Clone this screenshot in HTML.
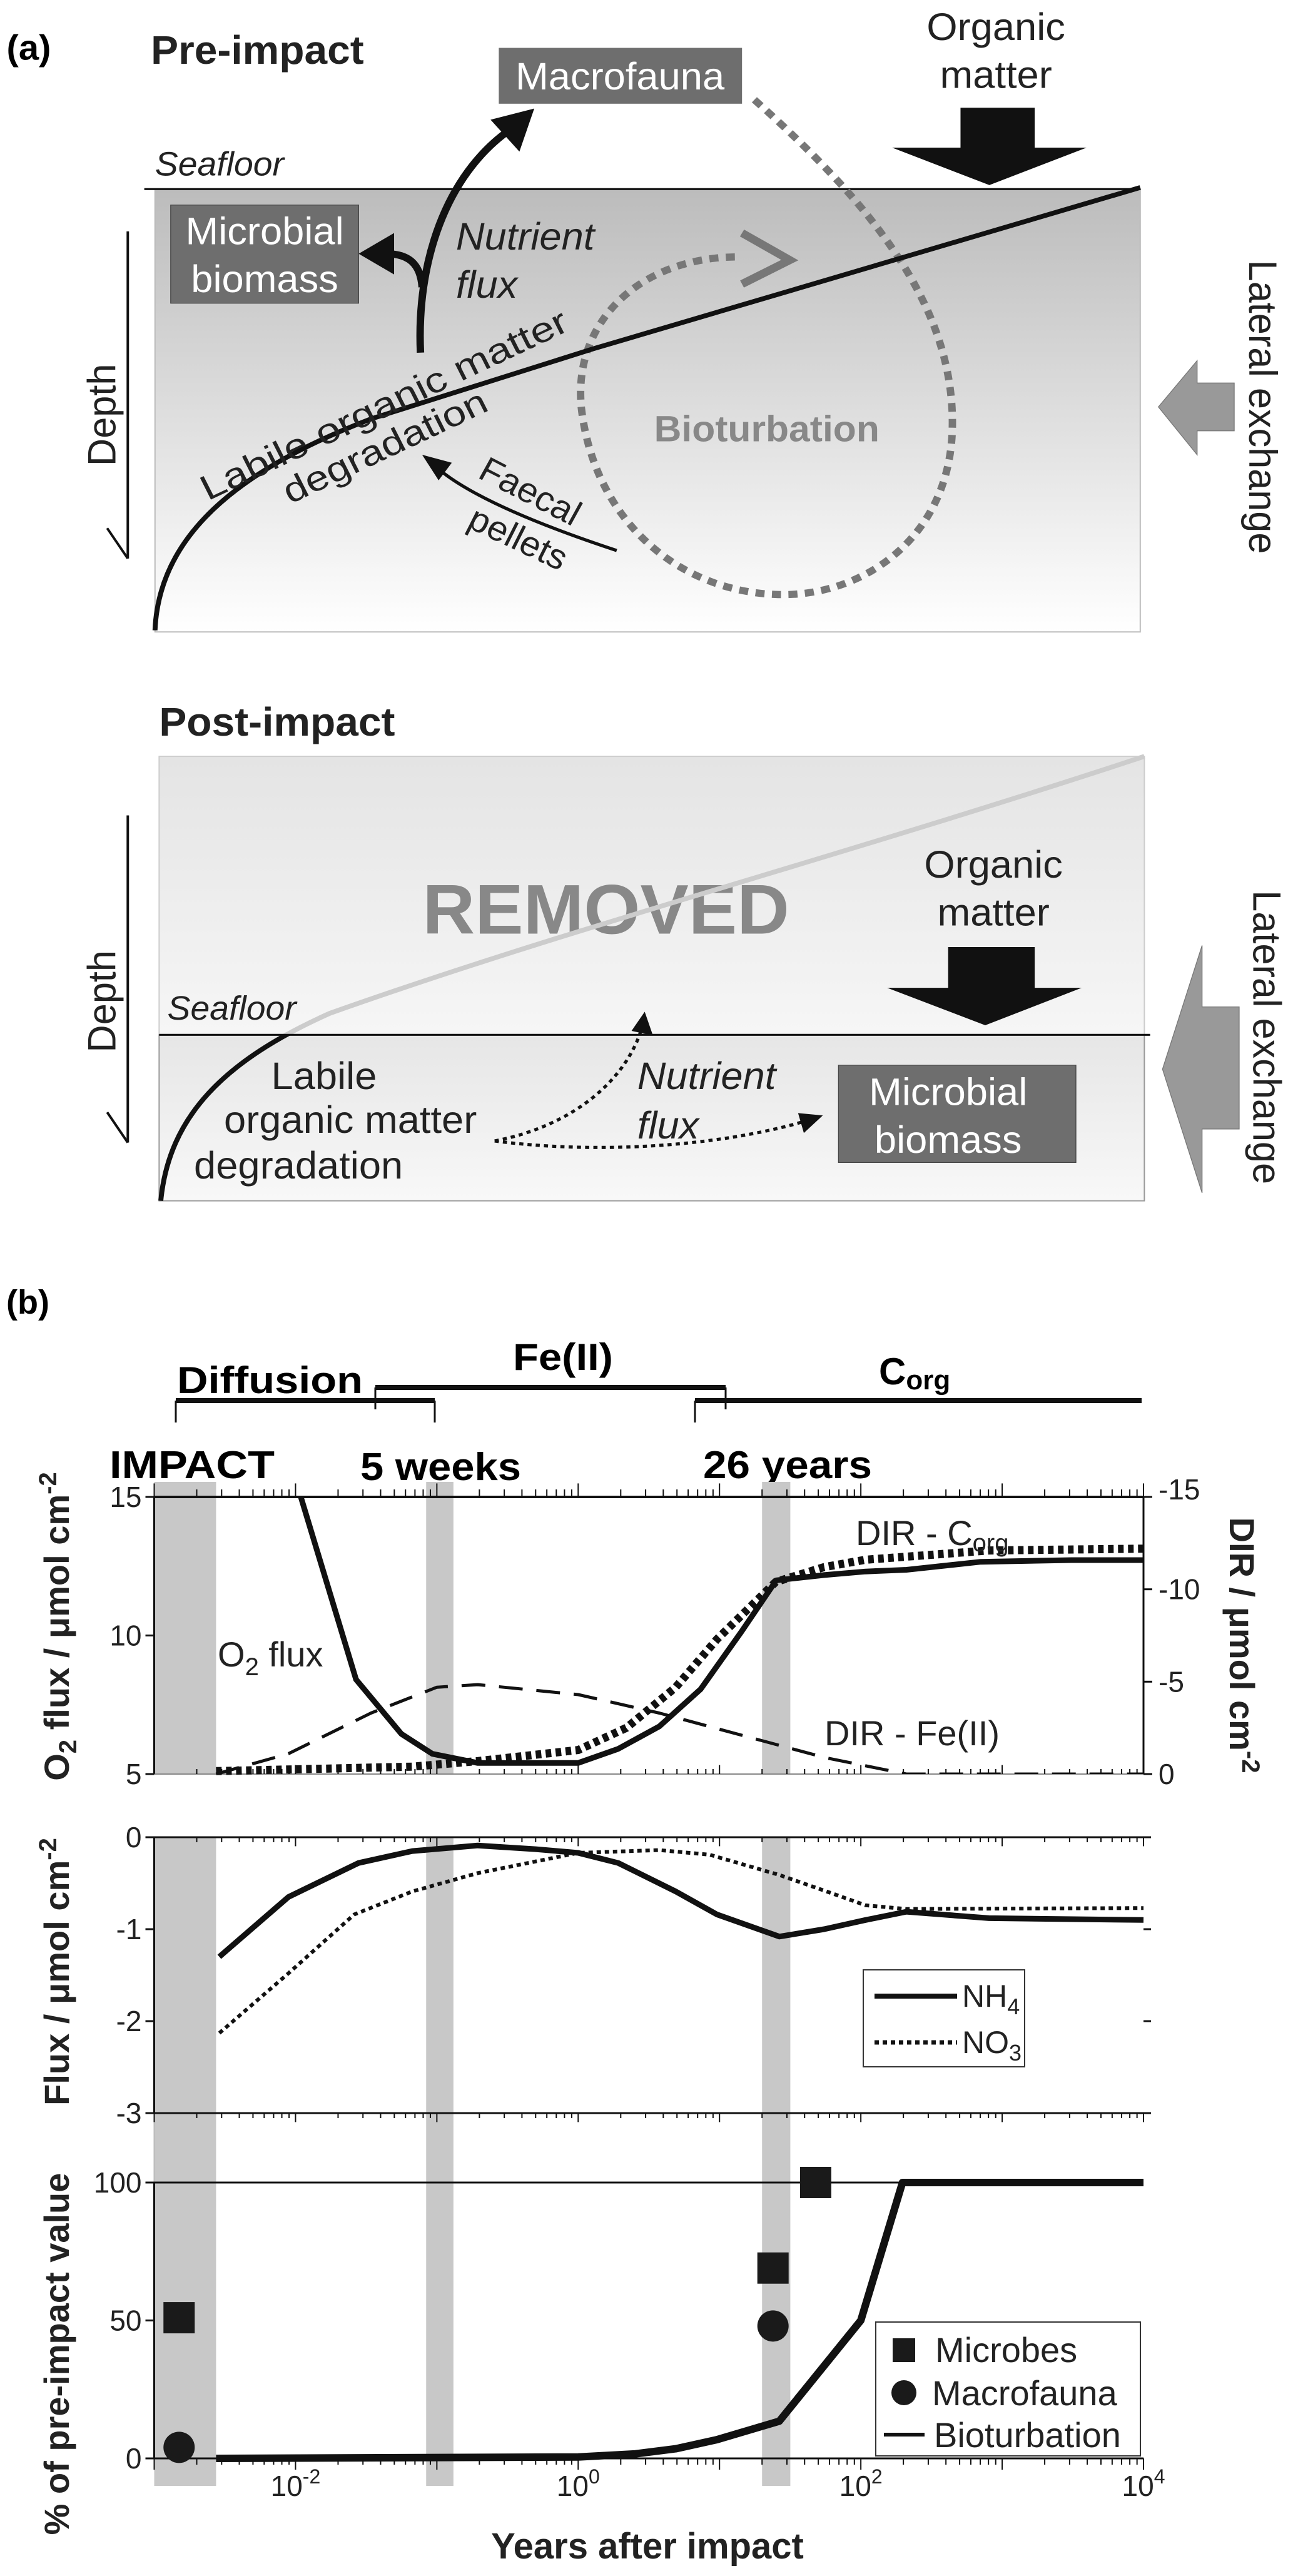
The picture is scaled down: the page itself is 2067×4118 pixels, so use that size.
<!DOCTYPE html>
<html><head><meta charset="utf-8"><style>
html,body{margin:0;padding:0;background:#fff}
svg{display:block}
text{font-family:"Liberation Sans",sans-serif}
.n{font-family:"Liberation Sans Narrow","Liberation Sans",sans-serif}
</style></head><body>
<svg id="fig" width="2067" height="4118" viewBox="0 0 2067 4118" xmlns="http://www.w3.org/2000/svg">
<defs>
<linearGradient id="gPre" x1="0" y1="0" x2="0" y2="1"><stop offset="0" stop-color="#bcbcbc"/><stop offset="1" stop-color="#ffffff"/></linearGradient>
<linearGradient id="gPost" x1="0" y1="0" x2="0" y2="1"><stop offset="0" stop-color="#e4e4e4"/><stop offset="1" stop-color="#f6f6f6"/></linearGradient>
<linearGradient id="gPost2" x1="0" y1="0" x2="0" y2="1"><stop offset="0" stop-color="#e6e6e6"/><stop offset="1" stop-color="#f8f8f8"/></linearGradient>
<clipPath id="below"><rect x="150" y="1297" width="1300" height="220"/></clipPath>
</defs>

<g transform="scale(1.318,1.2755)">
<text x="8" y="75" font-size="44" font-weight="bold">(a)</text>
<text x="183" y="80" font-size="50" font-weight="bold" fill="#222">Pre-impact</text>
<rect x="188" y="237" width="1195" height="555" fill="url(#gPre)" stroke="#bbb" stroke-width="1.5"/>
<line x1="175" y1="237" x2="1383" y2="237" stroke="#111" stroke-width="2.5"/>
<text x="188" y="220" font-size="42" font-style="italic" fill="#222">Seafloor</text>
<path d="M915,125 C1050,250 1160,380 1155,540 C1150,680 1040,750 940,745 C820,740 720,650 705,510 C695,400 780,320 900,322" fill="none" stroke="#777" stroke-width="9" stroke-dasharray="11,9"/>
<polyline points="900,292 958,326 900,356" fill="none" stroke="#777" stroke-width="10"/>
<text x="930" y="553" font-size="46" font-weight="bold" fill="#888" text-anchor="middle">Bioturbation</text>
<path d="M188,790 C192,690 260,600 450,525 L720,437 L1383,235" fill="none" stroke="#111" stroke-width="6"/>
<rect x="605" y="60" width="295" height="70" fill="#6e6e6e"/>
<text x="752" y="112" font-size="48" fill="#fff" text-anchor="middle">Macrofauna</text>
<text x="1208" y="50" font-size="48" text-anchor="middle" fill="#222">Organic</text>
<text x="1208" y="110" font-size="48" text-anchor="middle" fill="#222">matter</text>
<polygon points="1165,135 1255,135 1255,185 1318,185 1200,232 1082,185 1165,185" fill="#111"/>
<rect x="207" y="257" width="228" height="123" fill="#6e6e6e" stroke="#444" stroke-width="1"/>
<text x="321" y="306" font-size="48" fill="#fff" text-anchor="middle">Microbial</text>
<text x="321" y="366" font-size="48" fill="#fff" text-anchor="middle">biomass</text>
<path d="M510,442 C505,330 540,220 618,163" fill="none" stroke="#111" stroke-width="9"/>
<polygon points="648,136 630,190 595,150" fill="#111"/>
<path d="M512,360 C510,330 495,318 468,318" fill="none" stroke="#111" stroke-width="9"/>
<polygon points="435,318 478,292 478,344" fill="#111"/>
<text x="553" y="313" font-size="48" font-style="italic" fill="#222">Nutrient</text>
<text x="553" y="373" font-size="48" font-style="italic" fill="#222">flux</text>
<text transform="translate(252,628) rotate(-26)" font-size="44" fill="#222" textLength="490" lengthAdjust="spacingAndGlyphs">Labile organic matter</text>
<text transform="translate(352,632) rotate(-26)" font-size="44" fill="#222" textLength="270" lengthAdjust="spacingAndGlyphs">degradation</text>
<path d="M748,690 C660,660 575,625 532,588" fill="none" stroke="#111" stroke-width="4"/>
<polygon points="512,570 548,580 532,602" fill="#111"/>
<text transform="translate(578,598) rotate(28)" font-size="44" fill="#222">Faecal</text>
<text transform="translate(565,660) rotate(26)" font-size="44" fill="#222">pellets</text>
<line x1="155" y1="290" x2="155" y2="700" stroke="#111" stroke-width="3"/>
<line x1="130" y1="662" x2="155" y2="700" stroke="#111" stroke-width="3"/>
<text transform="translate(140,520) rotate(-90)" font-size="48" text-anchor="middle" fill="#222">Depth</text>
<polygon points="1405,510 1452,452 1452,480 1497,480 1497,540 1452,540 1452,570" fill="#999" stroke="#777" stroke-width="1"/>
<text transform="translate(1515,510) rotate(90)" font-size="48" text-anchor="middle" fill="#222">Lateral exchange</text>

<text x="193" y="922" font-size="50" font-weight="bold" fill="#222">Post-impact</text>
<rect x="193" y="948" width="1195" height="349" fill="url(#gPost)" stroke="#ccc" stroke-width="1.5"/>
<rect x="193" y="1297" width="1195" height="208" fill="url(#gPost2)" stroke="#999" stroke-width="1.5"/>
<text x="735" y="1170" font-size="88" font-weight="bold" fill="#888" text-anchor="middle">REMOVED</text>
<path d="M195,1505 C205,1400 270,1330 400,1270 C700,1160 1000,1080 1388,948" fill="none" stroke="#ccc" stroke-width="6"/>
<path d="M195,1505 C205,1400 270,1330 400,1270 C700,1160 1000,1080 1388,948" fill="none" stroke="#111" stroke-width="6" clip-path="url(#below)"/>
<line x1="193" y1="1297" x2="1395" y2="1297" stroke="#111" stroke-width="2.5"/>
<text x="203" y="1278" font-size="42" font-style="italic" fill="#222">Seafloor</text>
<text x="1205" y="1100" font-size="48" text-anchor="middle" fill="#222">Organic</text>
<text x="1205" y="1160" font-size="48" text-anchor="middle" fill="#222">matter</text>
<polygon points="1150,1187 1255,1187 1255,1238 1312,1238 1195,1285 1076,1238 1150,1238" fill="#111"/>
<text x="393" y="1365" font-size="48" text-anchor="middle" fill="#222">Labile</text>
<text x="425" y="1420" font-size="48" text-anchor="middle" fill="#222">organic matter</text>
<text x="362" y="1477" font-size="48" text-anchor="middle" fill="#222">degradation</text>
<path d="M600,1430 C700,1410 760,1350 778,1290" fill="none" stroke="#111" stroke-width="4" stroke-dasharray="5,5"/>
<polygon points="782,1268 792,1298 766,1292" fill="#111"/>
<path d="M600,1430 C750,1450 900,1430 980,1404" fill="none" stroke="#111" stroke-width="4" stroke-dasharray="5,5"/>
<polygon points="998,1398 975,1420 968,1395" fill="#111"/>
<text x="773" y="1365" font-size="48" font-style="italic" fill="#222">Nutrient</text>
<text x="773" y="1427" font-size="48" font-style="italic" fill="#222">flux</text>
<rect x="1017" y="1335" width="288" height="122" fill="#6e6e6e" stroke="#444" stroke-width="1"/>
<text x="1150" y="1385" font-size="48" fill="#fff" text-anchor="middle">Microbial</text>
<text x="1150" y="1445" font-size="48" fill="#fff" text-anchor="middle">biomass</text>
<line x1="155" y1="1022" x2="155" y2="1432" stroke="#111" stroke-width="3"/>
<line x1="130" y1="1394" x2="155" y2="1432" stroke="#111" stroke-width="3"/>
<text transform="translate(140,1255) rotate(-90)" font-size="48" text-anchor="middle" fill="#222">Depth</text>
<polygon points="1410,1340 1458,1185 1458,1262 1503,1262 1503,1415 1458,1415 1458,1495" fill="#999" stroke="#777" stroke-width="1"/>
<text transform="translate(1520,1300) rotate(90)" font-size="48" text-anchor="middle" fill="#222">Lateral exchange</text>
</g>

<g>
<text x="10" y="2100" font-size="54" font-weight="bold">(b)</text>
<rect x="600" y="2214" width="560" height="8" fill="#111"/>
<line x1="600" y1="2218" x2="600" y2="2253" stroke="#111" stroke-width="3"/>
<line x1="1160" y1="2218" x2="1160" y2="2253" stroke="#111" stroke-width="3"/>
<rect x="281" y="2235" width="414" height="8" fill="#111"/>
<line x1="281" y1="2239" x2="281" y2="2274" stroke="#111" stroke-width="3"/>
<line x1="695" y1="2239" x2="695" y2="2274" stroke="#111" stroke-width="3"/>
<rect x="1111" y="2235" width="714" height="8" fill="#111"/>
<line x1="1111" y1="2239" x2="1111" y2="2274" stroke="#111" stroke-width="3"/>
<text class="n" x="283" y="2227" font-size="60" font-weight="bold" textLength="297" lengthAdjust="spacingAndGlyphs">Diffusion</text>
<text class="n" x="820" y="2190" font-size="60" font-weight="bold" textLength="160" lengthAdjust="spacingAndGlyphs">Fe(II)</text>
<text class="n" x="1405" y="2213" font-size="60" font-weight="bold">C<tspan font-size="44" dy="8">org</tspan></text>
<text class="n" x="175" y="2363" font-size="62" font-weight="bold" textLength="264" lengthAdjust="spacingAndGlyphs">IMPACT</text>
<text class="n" x="576" y="2366" font-size="62" font-weight="bold" textLength="257" lengthAdjust="spacingAndGlyphs">5 weeks</text>
<text class="n" x="1124" y="2363" font-size="62" font-weight="bold" textLength="270" lengthAdjust="spacingAndGlyphs">26 years</text>
</g>
<g id="charts"></g>

<script>
// ---- data ----
const bandStart = [0.001, 0.084, 20];
const bandEnd = [0.00274, 0.131, 31.7];
const o2Years = [0.0109,0.0268,0.0561,0.093,0.195,1.0,1.92,3.75,7.35,14.4,25.2,55,108,210,705,3090,10000];
const o2Flux = [15,8.41,6.45,5.73,5.40,5.40,5.91,6.72,8.06,10.16,11.99,12.18,12.31,12.37,12.66,12.72,12.72];
const dirCorgYears = [0.00274,0.067,0.195,1,2.19,4.9,9.6,25,55,108,807,10000];
const dirCorg = [-0.16,-0.4,-0.7,-1.3,-2.5,-4.7,-7.3,-10.4,-11.2,-11.6,-12.1,-12.2];
const dirFeYears = [0.00274,0.0089,0.0342,0.1,0.195,1,3.75,14.4,55,210,10000];
const dirFe = [0,-1.1,-3.3,-4.7,-4.84,-4.3,-3.3,-2.1,-0.9,0,0];
const nh4Years = [0.00289,0.0089,0.0279,0.067,0.195,0.5,1,1.92,4.9,9.6,26.5,55,108,210,807,10000];
const nh4Flux = [-1.30,-0.65,-0.28,-0.15,-0.09,-0.13,-0.17,-0.28,-0.59,-0.84,-1.08,-1.0,-0.9,-0.81,-0.88,-0.90];
const no3Years = [0.00289,0.0089,0.026,0.067,0.195,1,3.75,8.5,26.5,55,108,210,10000];
const no3Flux = [-2.13,-1.48,-0.84,-0.59,-0.39,-0.17,-0.14,-0.19,-0.41,-0.58,-0.74,-0.78,-0.77];
const bioYears = [0.00274,1,2.5,4.9,9.6,26.5,100,197,10000];
const bioPct = [0,0.5,1.6,3.5,6.8,13.5,50,100,100];
const microbeYears = [0.0015,23.9,47.9];
const microbePct = [51,69,100];
const faunaYears = [0.0015,23.9];
const faunaPct = [4,48];
const xTickExp = [-2,0,2,4];
const o2Ticks = [15,10,5];
const dirTicks = [-15,-10,-5,0];
const fluxTicks = [0,-1,-2,-3];
const pctTicks = [100,50,0];

// ---- scales ----
const XL=246.5, XR=1828;
const xs = v => XL + (Math.log10(v)+3)*(XR-XL)/7;
const C1T=2393, C1B=2836, C2T=2937, C2B=3378, C3T=3489, C3B=3930;
const y1 = v => C1T + (15-v)/10*(C1B-C1T);
const y1r = v => C1B - (-v)/15*(C1B-C1T);
const y2 = v => C2T + (-v)/3*(C2B-C2T);
const y3 = v => C3B - v/100*(C3B-C3T);

const NS='http://www.w3.org/2000/svg';
const root=document.getElementById('charts');
function mk(tag, attrs, parent){const e=document.createElementNS(NS,tag);for(const k in attrs)e.setAttribute(k,attrs[k]);(parent||root).appendChild(e);return e;}
function rich(t, parts){parts.forEach(p=>{const s=document.createElementNS(NS,'tspan');for(const k in (p[1]||{}))s.setAttribute(k,p[1][k]);s.textContent=p[0];t.appendChild(s);});return t;}
function pathFrom(xa, ya, yf){return xa.map((x,i)=>(i?'L':'M')+xs(x).toFixed(1)+','+yf(ya[i]).toFixed(1)).join(' ');}

const bandRanges=[[2369,C1B],[C2T,C2B],[C2B,3974]];
bandRanges.forEach(r=>{bandStart.forEach((s,i)=>{
  const b=mk('rect',{x:xs(s),y:r[0],width:xs(bandEnd[i])-xs(s),height:r[1]-r[0],fill:'#c8c8c8'});
  
  
});});

function line(x1,y1_,x2,y2_,w,c,name){const l=mk('line',{x1:x1,y1:y1_,x2:x2,y2:y2_,stroke:c||'#111','stroke-width':w||3});if(name){}return l;}
line(XL,C1T,XR,C1T,4,'#111','chart1-top-axis');
line(XL,C1T,XL,C1B,3,'#111','chart1-left-axis');
line(XR,C1T,XR,C1B,3,'#111','chart1-right-axis');
line(XL,C1B,XR,C1B,2,'#888','chart1-bottom-axis');
line(XL,C2T,XR,C2T,3,'#111','chart2-top-axis');
line(XL,C2T,XL,C2B,3,'#111','chart2-left-axis');
line(XL,C2B,XR,C2B,3,'#111','chart2-bottom-axis');
line(XL,C2B,XL,C3T,2,'#bbb');
line(XL,C3T,XR,C3T,3,'#111','chart3-top-line');
line(XL,C3T,XL,C3B,3,'#111','chart3-left-axis');
line(XL,C3B,XR,C3B,3,'#111','chart3-bottom-axis');

function logTicks(y,dir,len){for(let e=-3;e<4;e++){for(let m=1;m<10;m++){const v=m*Math.pow(10,e);const x=xs(v);const L=(m===1)?len*1.8:len;line(x,y,x,y+dir*L,2,'#111');}} line(XR,y,XR,y+dir*len*1.8,2,'#111');}
logTicks(C1T,-1,12); logTicks(C1B,-1,8); logTicks(C2T,1,8); logTicks(C2B,1,8); logTicks(C3B,1,10);

function txt(s,x,y,size,anchor,name,extra){const t=mk('text',Object.assign({x:x,y:y,'font-size':size,'text-anchor':anchor||'start',fill:'#222'},extra||{}));t.textContent=s;if(name){}return t;}
o2Ticks.forEach(v=>{line(XL-14,y1(v),XL,y1(v),3);txt(String(v),XL-20,y1(v)+16,46,'end','o2-tick-label',{class:'n'});});
dirTicks.forEach(v=>{line(XR,y1r(v),XR+14,y1r(v),3);txt(String(v),XR+24,y1r(v)+(v===-15?4:16),46,'start','dir-tick-label',{class:'n'});});
fluxTicks.forEach(v=>{line(XL-14,y2(v),XL,y2(v),3);line(XR,y2(v),XR+12,y2(v),3);txt(String(v),XL-20,y2(v)+16,46,'end','flux-tick-label',{class:'n'});});
pctTicks.forEach(v=>{line(XL-14,y3(v),XL,y3(v),3);txt(String(v),XL-20,y3(v)+16,46,'end','pct-tick-label',{class:'n'});});
xTickExp.forEach(e=>{const t=mk('text',{x:xs(Math.pow(10,e)),y:3990,'font-size':46,'text-anchor':'middle',fill:'#222',class:'n'});
  
  
  rich(t,[['10'],[String(e),{'font-size':32,dy:-20}]]);});

function series(xa,ya,yf,w,dash,name){const p=mk('path',{d:pathFrom(xa,ya,yf),fill:'none',stroke:'#111','stroke-width':w,'stroke-linejoin':'round'});if(dash)p.setAttribute('stroke-dasharray',dash);
  
  
  return p;}
const cp=mk('clipPath',{id:'c1clip'});mk('rect',{x:XL,y:C1T,width:XR-XL,height:C1B-C1T},cp);
series(dirFeYears,dirFe,y1r,5,'38,22','dir-fe-line').setAttribute('clip-path','url(#c1clip)');
series(dirCorgYears,dirCorg,y1r,13,'9,7','dir-corg-line');
series(o2Years,o2Flux,y1,9,null,'o2-flux-line').setAttribute('clip-path','url(#c1clip)');
series(no3Years,no3Flux,y2,6,'7,6','no3-line');
series(nh4Years,nh4Flux,y2,9,null,'nh4-line');
series(bioYears,bioPct,y3,12,null,'bioturbation-line');
microbeYears.forEach((x,i)=>{const r=mk('rect',{x:xs(x)-25,y:y3(microbePct[i])-25,width:50,height:50,fill:'#1a1a1a'});
  
  });
faunaYears.forEach((x,i)=>{const c=mk('circle',{cx:xs(x),cy:y3(faunaPct[i]),r:25,fill:'#1a1a1a'});
  
  });

const o2l=mk('text',{x:348,y:2664,'font-size':56,fill:'#222'});
rich(o2l,[['O'],['2',{'font-size':40,dy:14}],[' flux',{dy:-14}]]);


const dcl=mk('text',{x:1368,y:2470,'font-size':56,fill:'#222'});
rich(dcl,[['DIR - C'],['org',{'font-size':40,dy:10}]]);


txt('DIR - Fe(II)',1318,2790,56,'start','dir-fe-label');

function vtitle(parts,x,y,rot,name){const t=mk('text',{transform:'translate('+x+','+y+') rotate('+rot+')','font-size':56,'font-weight':'bold','text-anchor':'middle',fill:'#222'});rich(t,parts);
  
  return t;}
vtitle([['O'],['2',{'font-size':40,dy:12}],[' flux / μmol cm',{dy:-12}],['-2',{'font-size':40,dy:-20}]],110,2600,-90,'o2-y-axis-title');
vtitle([['Flux / μmol cm'],['-2',{'font-size':40,dy:-20}]],110,3152,-90,'flux-y-axis-title');
vtitle([['% of pre-impact value']],110,3763,-90,'pct-y-axis-title');
vtitle([['DIR / μmol cm'],['-2',{'font-size':40,dy:-20}]],1966,2630,90,'dir-y-axis-title');
txt('Years after impact',1035,4090,58,'middle','x-axis-title',{'font-weight':'bold'});

const lg2=mk('g',{});


mk('rect',{x:1380,y:3149,width:258,height:155,fill:'#fff',stroke:'#333','stroke-width':2},lg2);
mk('line',{x1:1398,y1:3191,x2:1530,y2:3191,stroke:'#111','stroke-width':8},lg2);
mk('line',{x1:1398,y1:3265,x2:1530,y2:3265,stroke:'#111','stroke-width':7,'stroke-dasharray':'7,6'},lg2);
rich(mk('text',{x:1538,y:3208,'font-size':50,fill:'#222'},lg2),[['NH'],['4',{'font-size':36,dy:12}]]);
rich(mk('text',{x:1538,y:3282,'font-size':50,fill:'#222'},lg2),[['NO'],['3',{'font-size':36,dy:12}]]);

const lg3=mk('g',{});


mk('rect',{x:1400,y:3712,width:423,height:214,fill:'#fff',stroke:'#333','stroke-width':2},lg3);
mk('rect',{x:1427,y:3738,width:36,height:38,fill:'#1a1a1a'},lg3);
mk('circle',{cx:1445,cy:3825,r:20,fill:'#1a1a1a'},lg3);
mk('line',{x1:1413,y1:3892,x2:1478,y2:3892,stroke:'#111','stroke-width':6},lg3);
mk('text',{x:1495,y:3776,'font-size':56,fill:'#222'},lg3).textContent='Microbes';
mk('text',{x:1490,y:3845,'font-size':56,fill:'#222'},lg3).textContent='Macrofauna';
mk('text',{x:1493,y:3912,'font-size':56,fill:'#222'},lg3).textContent='Bioturbation';
</script>
</svg>
</body></html>
